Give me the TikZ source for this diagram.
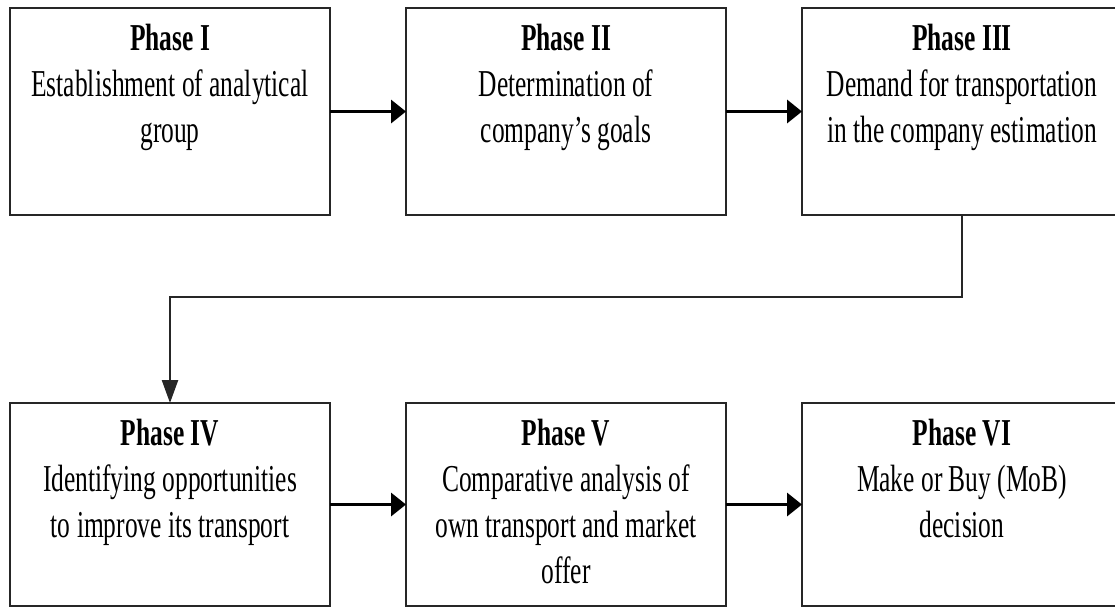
\documentclass[tikz,border=0pt]{standalone}
\usepackage{fontspec}
\setmainfont[FakeStretch=0.67]{Liberation Serif}
\usetikzlibrary{arrows.meta}
\begin{document}
\begin{tikzpicture}[x=1pt,y=-1pt,
  phasebox/.style={draw=black!85, line width=2.4pt, minimum width=320pt,
    minimum height=207pt, inner sep=0pt, outer sep=0pt, anchor=north west},
  caption/.style={align=center, inner sep=0pt, anchor=north,
    font=\fontsize{38}{46}\selectfont},
  flow/.style={draw=black, line width=3.4pt,
    -{Triangle[length=15pt,width=23pt]}},
  feed/.style={draw=black!85, line width=2.4pt,
    -{Triangle[length=23pt,width=16pt]}}
]
\useasboundingbox (0,0) rectangle (1115,606);
\clip (0,0) rectangle (1115,606);
\fill[white] (0,0) rectangle (1115,606);

% top row
\node[phasebox] (b1) at (10,8) {};
\node[phasebox] (b2) at (406,8) {};
\node[phasebox] (b3) at (802,8) {};
% bottom row
\node[phasebox, minimum height=203pt] (b4) at (10,403) {};
\node[phasebox, minimum height=203pt] (b5) at (406,403) {};
\node[phasebox, minimum height=203pt] (b6) at (802,403) {};

\node[caption] (t1) at ([yshift=-16pt]b1.north)
  {\textbf{Phase I}\\Establishment of analytical\\group};
\node[caption] (t2) at ([yshift=-16pt]b2.north)
  {\textbf{Phase II}\\Determination of\\company’s goals};
\node[caption] (t3) at ([yshift=-16pt]b3.north)
  {\textbf{Phase III}\\Demand for transportation\\in the company estimation};
\node[caption] (t4) at ([yshift=-16pt]b4.north)
  {\textbf{Phase IV}\\Identifying opportunities\\to improve its transport};
\node[caption] (t5) at ([yshift=-16pt]b5.north)
  {\textbf{Phase V}\\Comparative analysis of\\own transport and market\\offer};
\node[caption] (t6) at ([yshift=-16pt]b6.north)
  {\textbf{Phase VI}\\Make or Buy (MoB)\\decision};

% connectors
\draw[flow] (b1.east) -- (b2.west);
\draw[flow] (b2.east) -- (b3.west);
\draw[flow] (b4.east) -- (b5.west);
\draw[flow] (b5.east) -- (b6.west);

\coordinate (turn) at (b3.south |- 0,297);
\draw[feed] (b3.south) -- (turn) -| (b4.north);
\end{tikzpicture}
\end{document}
